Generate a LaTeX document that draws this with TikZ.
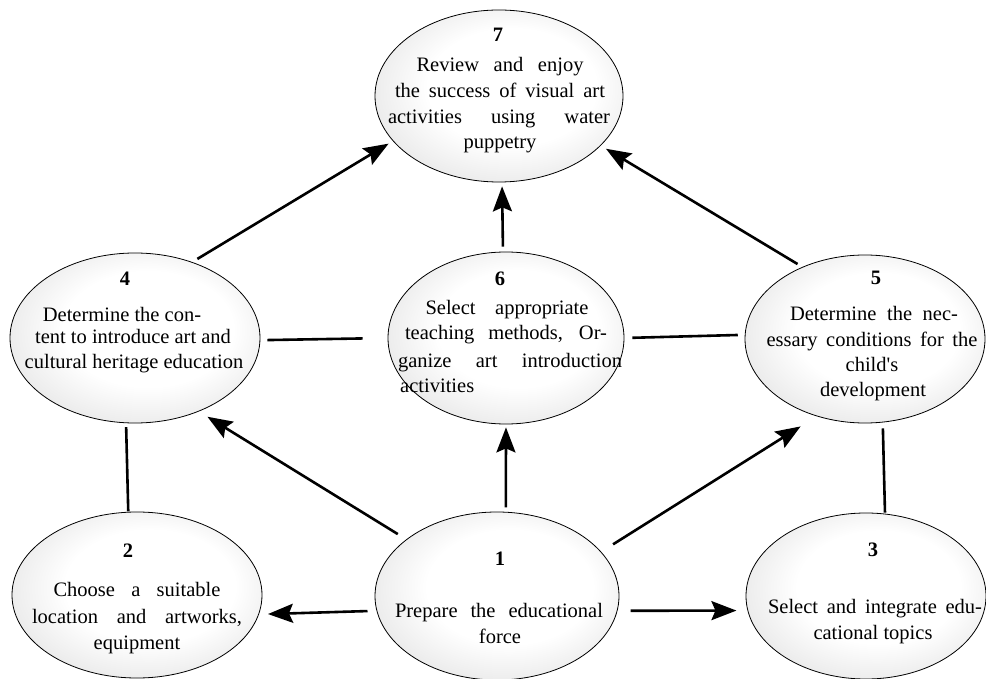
\documentclass[tikz,border=0pt]{standalone}
\usepackage{fontspec}
\setmainfont{Liberation Serif}
\usetikzlibrary{shapes.geometric,arrows.meta}
\pgfdeclareradialshading{ellfill}{\pgfpoint{4bp}{4bp}}{color(0bp)=(white); color(17bp)=(white); color(50bp)=(black!24)}
\begin{document}
\begin{tikzpicture}[x=1pt,y=-1pt,
  ell/.style={ellipse, draw=black, line width=0.8pt, shade, shading=ellfill, inner sep=0pt},
  txt/.style={font=\fontsize{20.5}{25}\selectfont, inner sep=0pt, anchor=base},
  num/.style={font=\fontsize{20.5}{25}\selectfont\bfseries, inner sep=0pt, anchor=base},
  arr/.style={line width=2.6pt, -{Stealth[length=25pt,width=19pt,inset=4pt]}},
  con/.style={line width=2.6pt}]
\useasboundingbox (0,0) rectangle (986,679);

% ellipses
\node[ell, minimum width=248pt, minimum height=172pt] (n7) at (499,96) {};
\node[ell, minimum width=250pt, minimum height=170pt] (n4) at (135,338) {};
\node[ell, minimum width=236pt, minimum height=172pt] (n6) at (506,338) {};
\node[ell, minimum width=240pt, minimum height=168pt] (n5) at (865,339) {};
\node[ell, minimum width=250pt, minimum height=166pt] (n2) at (137,595) {};
\node[ell, minimum width=244pt, minimum height=168pt] (n1) at (497,596) {};
\node[ell, minimum width=240pt, minimum height=166pt] (n3) at (866,596) {};

% texts 7
\node[num] (k7) at (498,42) {7};
\node[txt] (t7a) at (500,72) {\makebox[167pt][s]{Review and enjoy}};
\node[txt] (t7b) at (500,98) {\makebox[210pt][s]{the success of visual art}};
\node[txt] (t7c) at (499,124) {\makebox[222pt][s]{activities using water}};
\node[txt] (t7d) at (500,149) {puppetry};
% texts 4
\node[num] (k4) at (125,286) {4};
\node[txt] (t4a) at (122,321) {Determine the con-};
\node[txt] (t4b) at (133,344) {tent to introduce art and};
\node[txt] (t4c) at (134,368) {cultural heritage education};
% texts 6
\node[num] (k6) at (500,286) {6};
\node[txt] (t6a) at (507,315) {\makebox[163pt][s]{Select appropriate}};
\node[txt] (t6b) at (506,340) {\makebox[202pt][s]{teaching methods, Or-}};
\node[txt] (t6c) at (510,367) {\makebox[224pt][s]{ganize art introduction}};
\node[txt, anchor=base west] (t6d) at (400,392) {activities};
% texts 5
\node[num] (k5) at (876,285) {5};
\node[txt] (t5a) at (874,320) {\makebox[168pt][s]{Determine the nec-}};
\node[txt] (t5b) at (872,346) {\makebox[211pt][s]{essary conditions for the}};
\node[txt] (t5c) at (872,371) {child\textquotesingle s};
\node[txt] (t5d) at (873,396) {development};
% texts 2
\node[num] (k2) at (128,557) {2};
\node[txt] (t2a) at (137,596) {\makebox[167pt][s]{Choose a suitable}};
\node[txt] (t2b) at (137,623) {\makebox[210pt][s]{location and artworks,}};
\node[txt] (t2c) at (137,649) {equipment};
% texts 1
\node[num] (k1) at (500,565) {1};
\node[txt] (t1a) at (499,617) {\makebox[208pt][s]{Prepare the educational}};
\node[txt] (t1b) at (500,643) {force};
% texts 3
\node[num] (k3) at (873,556) {3};
\node[txt] (t3a) at (875,613) {\makebox[214pt][s]{Select and integrate edu-}};
\node[txt] (t3b) at (873,639) {cational topics};

% connectors
\draw[arr, shorten <=6pt, shorten >=5pt] (n4.53.5) -- (n7.203.1);
\draw[arr, shorten <=5.6pt, shorten >=6pt] (n5.131) -- (n7.334);
\draw[arr, shorten <=5pt, shorten >=4pt] (n6.92.5) -- (n7.-88);
\draw[con, shorten <=7pt, shorten >=25pt] (n4.-1.3) -- (n6.180.4);
\draw[con, shorten <=8pt, shorten >=7pt] (n6.0) -- (n5.178.6);
\draw[con, shorten <=4pt, shorten >=0.5pt] (n4.-96.4) -- (n2.96.9);
\draw[con, shorten <=6pt, shorten >=1pt] (n5.-78.6) -- (n3.77.8);
\draw[arr, shorten <=10pt, shorten >=10pt] (n1.148.6) -- (n4.-49.6);
\draw[arr, shorten <=4.5pt, shorten >=3pt] (n1.84.2) -- (n6.-90);
\draw[arr, shorten <=14pt, shorten >=19pt] (n1.23.3) -- (n5.238);
\draw[arr, shorten <=9pt, shorten >=9pt] (n1.187.1) -- (n2.-9.2);
\draw[arr, shorten <=13pt, shorten >=11pt] (n1.-7.7) -- (n3.187.5);
\end{tikzpicture}
\end{document}
